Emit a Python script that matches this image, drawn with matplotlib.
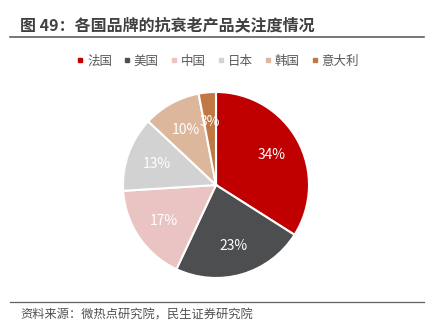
import matplotlib.pyplot as plt
from matplotlib.lines import Line2D

plt.rcParams['font.family'] = ['Noto Sans CJK SC', 'DejaVu Sans']

countries = ['法国', '美国', '中国', '日本', '韩国', '意大利']
shares = [34, 23, 17, 13, 10, 3]
colors = ['#C00000', '#4D4E50', '#EAC3C3', '#D2D2D2', '#DDB79C', '#C07845']

fig = plt.figure(figsize=(4.4, 3.28), dpi=100)

# title and rules
fig.text(20 / 440, 1 - 25 / 328, '图 49：各国品牌的抗衰老产品关注度情况', fontsize=11.5,
         fontweight='bold', color='#404040', va='center', ha='left')
fig.add_artist(Line2D([10 / 440, 424 / 440], [1 - 37 / 328] * 2, color='#606060', lw=1.2))
fig.add_artist(Line2D([10 / 440, 424 / 440], [1 - 302 / 328] * 2, color='#606060', lw=0.9))
fig.text(20 / 440, 1 - 315 / 328, '资料来源：微热点研究院，民生证券研究院', fontsize=8.8,
         color='#505050', va='center', ha='left')

# pie
r = 93
cx, cy = 216, 185
ax = fig.add_axes([(cx - r) / 440, 1 - (cy + r) / 328, 2 * r / 440, 2 * r / 328])
wedges, texts, autotexts = ax.pie(
    shares, colors=colors, startangle=90, counterclock=False,
    autopct=lambda p: f'{p:.0f}%', pctdistance=0.68,
    wedgeprops=dict(edgecolor='white', linewidth=1.5),
    textprops=dict(color='white', fontsize=10))
ax.set_xlim(-1, 1)
ax.set_ylim(-1, 1)
ax.set_aspect('equal')

# legend
handles = [Line2D([], [], marker='s', ls='', color=c, markersize=3.5) for c in colors]
fig.legend(handles, countries, loc='center', bbox_to_anchor=(218 / 440, 1 - 61 / 328), ncol=6,
           frameon=False, fontsize=9, handletextpad=0.3, columnspacing=0.95,
           handlelength=0.5, labelcolor='#595959')

fig.savefig('out.png', dpi=100)
